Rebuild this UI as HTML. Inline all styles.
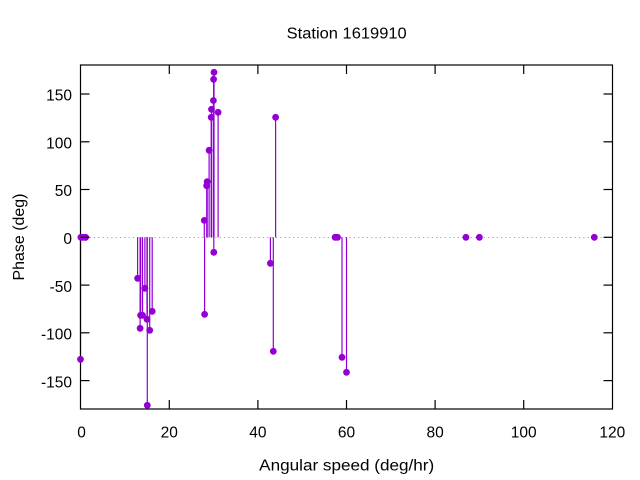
<!DOCTYPE html>
<html><head><meta charset="utf-8"><style>
html,body{margin:0;padding:0;background:#fff;}
svg{display:block;}
text{font-family:"Liberation Sans",sans-serif;fill:#000;}
</style></head><body>
<svg width="640" height="480" viewBox="0 0 640 480" xmlns="http://www.w3.org/2000/svg">
<rect width="640" height="480" fill="#fff"/>
<!-- zero axis -->
<line x1="81" y1="237.5" x2="612" y2="237.5" stroke="#a0a0a0" stroke-width="1" stroke-dasharray="1.2 3.13"/>
<!-- stems -->
<g stroke="#9400d3" stroke-width="1.2">
<line x1="80.5" y1="237.3" x2="80.5" y2="359.3"/>
<line x1="137.6" y1="237.3" x2="137.6" y2="278.3"/>
<line x1="140.1" y1="237.3" x2="140.1" y2="328.3"/>
<line x1="140.6" y1="237.3" x2="140.6" y2="315.3"/>
<line x1="142.5" y1="237.3" x2="142.5" y2="315.3"/>
<line x1="144.9" y1="237.3" x2="144.9" y2="288.3"/>
<line x1="147.0" y1="237.3" x2="147.0" y2="319.3"/>
<line x1="147.3" y1="237.3" x2="147.3" y2="405.3"/>
<line x1="149.7" y1="237.3" x2="149.7" y2="330.3"/>
<line x1="152.2" y1="237.3" x2="152.2" y2="311.3"/>
<line x1="204.3" y1="237.3" x2="204.3" y2="220.4"/>
<line x1="204.6" y1="237.3" x2="204.6" y2="314.3"/>
<line x1="206.7" y1="237.3" x2="206.7" y2="185.7"/>
<line x1="207.2" y1="237.3" x2="207.2" y2="181.7"/>
<line x1="209.1" y1="237.3" x2="209.1" y2="150.3"/>
<line x1="211.2" y1="237.3" x2="211.2" y2="117.3"/>
<line x1="211.5" y1="237.3" x2="211.5" y2="109.3"/>
<line x1="213.4" y1="237.3" x2="213.4" y2="100.5"/>
<line x1="213.6" y1="237.3" x2="213.6" y2="79.3"/>
<line x1="213.8" y1="237.3" x2="213.8" y2="252.3"/>
<line x1="214.0" y1="237.3" x2="214.0" y2="72.3"/>
<line x1="218.1" y1="237.3" x2="218.1" y2="112.3"/>
<line x1="270.4" y1="237.3" x2="270.4" y2="263.3"/>
<line x1="273.3" y1="237.3" x2="273.3" y2="351.3"/>
<line x1="275.6" y1="237.3" x2="275.6" y2="117.3"/>
<line x1="342.0" y1="237.3" x2="342.0" y2="357.3"/>
<line x1="346.5" y1="237.3" x2="346.5" y2="372.3"/>
</g>
<!-- border -->
<rect x="80.5" y="65" width="532" height="344" fill="none" stroke="#000" stroke-width="1.2"/>
<!-- points -->
<g fill="#9400d3">
<circle cx="80.9" cy="237.3" r="3.4"/>
<circle cx="80.5" cy="359.3" r="3.4"/>
<circle cx="83.1" cy="237.3" r="3.4"/>
<circle cx="85.2" cy="237.3" r="3.4"/>
<circle cx="85.6" cy="237.3" r="3.4"/>
<circle cx="137.6" cy="278.3" r="3.4"/>
<circle cx="140.1" cy="328.3" r="3.4"/>
<circle cx="140.6" cy="315.3" r="3.4"/>
<circle cx="142.5" cy="315.3" r="3.4"/>
<circle cx="144.9" cy="288.3" r="3.4"/>
<circle cx="147.0" cy="319.3" r="3.4"/>
<circle cx="147.3" cy="405.3" r="3.4"/>
<circle cx="149.7" cy="330.3" r="3.4"/>
<circle cx="152.2" cy="311.3" r="3.4"/>
<circle cx="204.3" cy="220.4" r="3.4"/>
<circle cx="204.6" cy="314.3" r="3.4"/>
<circle cx="206.7" cy="185.7" r="3.4"/>
<circle cx="207.2" cy="181.7" r="3.4"/>
<circle cx="209.1" cy="150.3" r="3.4"/>
<circle cx="211.2" cy="117.3" r="3.4"/>
<circle cx="211.5" cy="109.3" r="3.4"/>
<circle cx="213.4" cy="100.5" r="3.4"/>
<circle cx="213.6" cy="79.3" r="3.4"/>
<circle cx="213.8" cy="252.3" r="3.4"/>
<circle cx="214.0" cy="72.3" r="3.4"/>
<circle cx="218.1" cy="112.3" r="3.4"/>
<circle cx="270.4" cy="263.3" r="3.4"/>
<circle cx="273.3" cy="351.3" r="3.4"/>
<circle cx="275.6" cy="117.3" r="3.4"/>
<circle cx="335.1" cy="237.3" r="3.4"/>
<circle cx="337.5" cy="237.3" r="3.4"/>
<circle cx="342.0" cy="357.3" r="3.4"/>
<circle cx="346.5" cy="372.3" r="3.4"/>
<circle cx="465.9" cy="237.3" r="3.4"/>
<circle cx="479.4" cy="237.3" r="3.4"/>
<circle cx="594.3" cy="237.3" r="3.4"/>
</g>
<!-- ticks -->
<g stroke="#000" stroke-width="1.2">
<line x1="169.3" y1="409" x2="169.3" y2="400"/><line x1="169.3" y1="65" x2="169.3" y2="74"/>
<line x1="257.9" y1="409" x2="257.9" y2="400"/><line x1="257.9" y1="65" x2="257.9" y2="74"/>
<line x1="346.5" y1="409" x2="346.5" y2="400"/><line x1="346.5" y1="65" x2="346.5" y2="74"/>
<line x1="435.1" y1="409" x2="435.1" y2="400"/><line x1="435.1" y1="65" x2="435.1" y2="74"/>
<line x1="523.7" y1="409" x2="523.7" y2="400"/><line x1="523.7" y1="65" x2="523.7" y2="74"/>
<line x1="80.5" y1="94.0" x2="89.5" y2="94.0"/><line x1="612.5" y1="94.0" x2="603.5" y2="94.0"/>
<line x1="80.5" y1="141.8" x2="89.5" y2="141.8"/><line x1="612.5" y1="141.8" x2="603.5" y2="141.8"/>
<line x1="80.5" y1="189.5" x2="89.5" y2="189.5"/><line x1="612.5" y1="189.5" x2="603.5" y2="189.5"/>
<line x1="80.5" y1="237.3" x2="89.5" y2="237.3"/><line x1="612.5" y1="237.3" x2="603.5" y2="237.3"/>
<line x1="80.5" y1="285.1" x2="89.5" y2="285.1"/><line x1="612.5" y1="285.1" x2="603.5" y2="285.1"/>
<line x1="80.5" y1="332.8" x2="89.5" y2="332.8"/><line x1="612.5" y1="332.8" x2="603.5" y2="332.8"/>
<line x1="80.5" y1="380.6" x2="89.5" y2="380.6"/><line x1="612.5" y1="380.6" x2="603.5" y2="380.6"/>
</g>
<!-- y tick labels -->
<g font-size="15.5" text-anchor="end">
<text x="72" y="100.7">150</text>
<text x="72" y="148.5">100</text>
<text x="72" y="196.2">50</text>
<text x="72" y="244">0</text>
<text x="72" y="291.8">-50</text>
<text x="72" y="339.5">-100</text>
<text x="72" y="387.3">-150</text>
</g>
<!-- x tick labels -->
<g font-size="15.5" text-anchor="middle">
<text x="81.5" y="437.5">0</text>
<text x="169.3" y="437.5">20</text>
<text x="257.9" y="437.5">40</text>
<text x="346.5" y="437.5">60</text>
<text x="435.1" y="437.5">80</text>
<text x="523.7" y="437.5">100</text>
<text x="612.3" y="437.5">120</text>
</g>
<text x="346.7" y="38.3" font-size="15.5" text-anchor="middle" textLength="120" lengthAdjust="spacingAndGlyphs">Station 1619910</text>
<text x="346.7" y="470.7" font-size="15.5" text-anchor="middle" textLength="175" lengthAdjust="spacingAndGlyphs">Angular speed (deg/hr)</text>
<text transform="translate(24,237) rotate(-90)" x="0" y="0" font-size="15.5" text-anchor="middle" textLength="87" lengthAdjust="spacingAndGlyphs">Phase (deg)</text>
</svg>
</body></html>
